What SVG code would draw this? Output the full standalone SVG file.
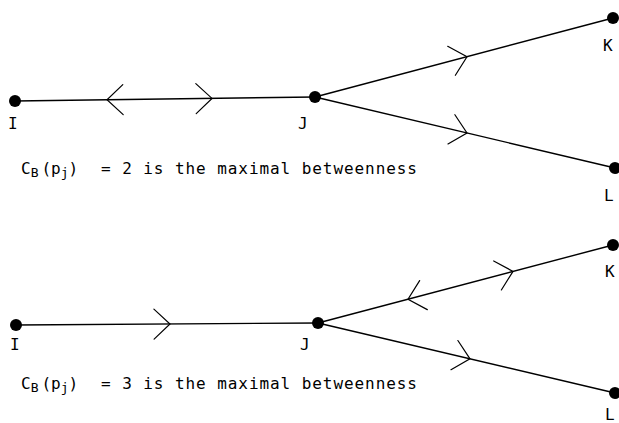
<svg xmlns="http://www.w3.org/2000/svg" xmlns:xlink="http://www.w3.org/1999/xlink" width="619" height="423" viewBox="0 0 619 423">
  <style>
    .edge { stroke: #000; stroke-width: 1.4; fill: none; }
    .chev { stroke: #000; stroke-width: 1.2; fill: none; stroke-linecap: round; stroke-linejoin: miter; }
    .dot { fill: #000; }
    .lbl { font-family: "DejaVu Sans Mono", "Liberation Mono", monospace; font-size: 16px; fill: #000; }
    .cap { font-family: "DejaVu Sans Mono", "Liberation Mono", monospace; font-size: 16px; fill: #000; }
    .sub { font-size: 13px; }
  </style>
  <defs>
    <!-- open chevron arrowhead, tip at origin pointing along +x -->
    <path id="chev" class="chev" d="M-16,-15 L0,0 L-16,15"/>
  </defs>
  <rect width="619" height="423" fill="#fff"/>

  <!-- connectors -->
  <g id="connectors">
    <!-- upper graph -->
    <line class="edge" x1="15" y1="101" x2="315" y2="97"/>
    <line class="edge" x1="315" y1="97" x2="613" y2="18"/>
    <line class="edge" x1="315" y1="97" x2="615" y2="168"/>
    <use xlink:href="#chev" transform="translate(107,99.8) rotate(179.2)"/>
    <use xlink:href="#chev" transform="translate(212,98.4) rotate(-0.8)"/>
    <use xlink:href="#chev" transform="translate(467,56.7) rotate(-14.8)"/>
    <use xlink:href="#chev" transform="translate(467,133) rotate(13.3)"/>
    <!-- lower graph -->
    <line class="edge" x1="16" y1="325" x2="318" y2="323"/>
    <line class="edge" x1="318" y1="323" x2="613" y2="245"/>
    <line class="edge" x1="318" y1="323" x2="615" y2="393"/>
    <use xlink:href="#chev" transform="translate(170,324) rotate(-0.4)"/>
    <use xlink:href="#chev" transform="translate(513,271.4) rotate(-14.8)"/>
    <use xlink:href="#chev" transform="translate(408,299.2) rotate(165.2)"/>
    <use xlink:href="#chev" transform="translate(470,358.8) rotate(13.3)"/>
  </g>

  <!-- upper graph nodes -->
  <g id="top-I"><circle class="dot" cx="15" cy="101" r="6"/><text class="lbl" x="8" y="129">I</text></g>
  <g id="top-J"><circle class="dot" cx="315" cy="97" r="6"/><text class="lbl" x="298" y="129">J</text></g>
  <g id="top-K"><circle class="dot" cx="613" cy="18" r="6"/><text class="lbl" x="603" y="51">K</text></g>
  <g id="top-L"><circle class="dot" cx="615" cy="168" r="6"/><text class="lbl" x="604" y="201">L</text></g>

  <!-- lower graph nodes -->
  <g id="bottom-I"><circle class="dot" cx="16" cy="325" r="6"/><text class="lbl" x="10" y="350">I</text></g>
  <g id="bottom-J"><circle class="dot" cx="318" cy="323" r="6"/><text class="lbl" x="300" y="350">J</text></g>
  <g id="bottom-K"><circle class="dot" cx="613" cy="245" r="6"/><text class="lbl" x="605" y="277">K</text></g>
  <g id="bottom-L"><circle class="dot" cx="615" cy="393" r="6"/><text class="lbl" x="605" y="420">L</text></g>

  <!-- captions -->
  <text class="cap" x="21" y="174">C<tspan class="sub" dy="3">B</tspan><tspan dy="-3" dx="3">(p</tspan><tspan class="sub" dy="3">j</tspan><tspan dy="-3">)</tspan></text>
  <text class="cap" x="101" y="174" textLength="316" lengthAdjust="spacing">= 2 is the maximal betweenness</text>

  <text class="cap" x="21" y="389">C<tspan class="sub" dy="3">B</tspan><tspan dy="-3" dx="3">(p</tspan><tspan class="sub" dy="3">j</tspan><tspan dy="-3">)</tspan></text>
  <text class="cap" x="101" y="389" textLength="316" lengthAdjust="spacing">= 3 is the maximal betweenness</text>
</svg>
